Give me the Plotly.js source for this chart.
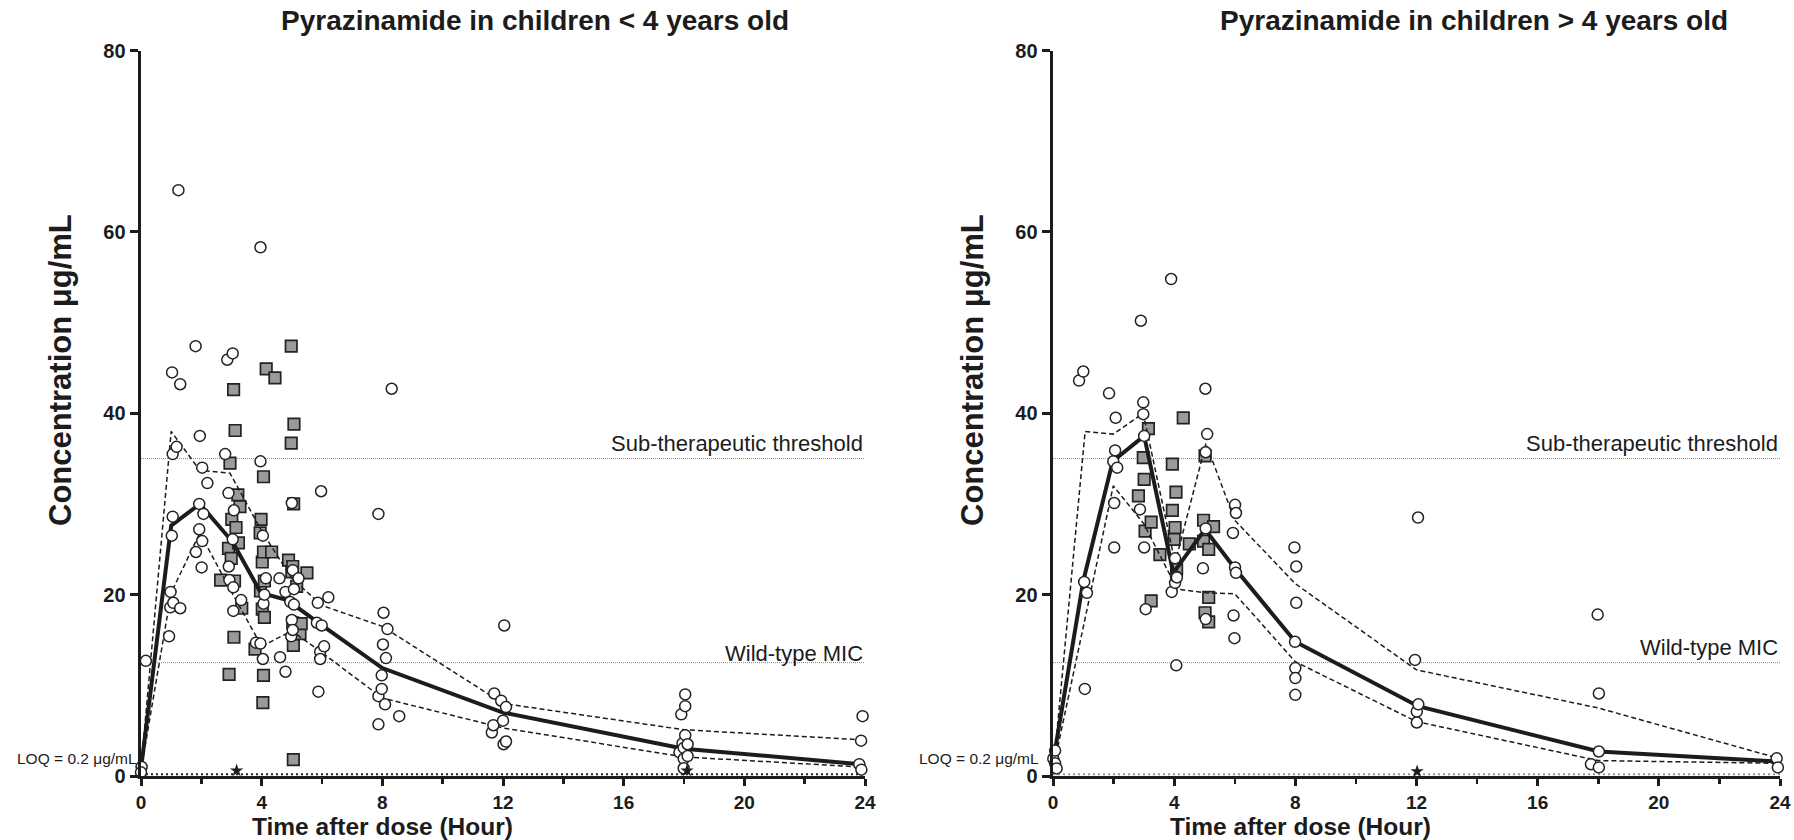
<!DOCTYPE html>
<html>
<head>
<meta charset="utf-8">
<script src="https://cdn.plot.ly/plotly-3.0.1.min.js"></script>
<style>html,body{margin:0;padding:0;background:#fff;}#chart{width:1794px;height:840px;}</style>
</head>
<body>
<div id="chart"></div>
<script>
// ---------- data ----------
const panelTitles = ["Pyrazinamide in children < 4 years old", "Pyrazinamide in children > 4 years old"];
const xTickVals = [0, 4, 8, 12, 16, 20, 24];
const xMinorVals = [2, 6, 10, 14, 18, 22];
const yTickVals = [0, 20, 40, 60, 80];
const subTherapeutic = 35;
const wildTypeMIC = 12.5;
const loq = 0.2;

// Left panel (< 4 years)
const leftCircleX = [0.02,0.0,0.16,0.93,0.97,0.98,1.02,1.05,1.07,1.03,1.05,1.18,1.24,1.3,1.3,
  1.81,1.82,1.93,1.93,1.95,2.01,2.03,2.03,2.07,2.2,
  2.79,2.86,2.9,2.91,2.93,3.04,3.04,3.06,3.06,3.08,3.32,
  3.81,3.96,3.96,3.96,4.04,4.04,4.06,4.09,4.14,
  4.59,4.61,4.79,4.79,4.95,4.98,5.0,5.0,5.03,5.03,5.07,5.07,5.22,
  5.83,5.86,5.88,5.94,5.94,5.97,5.99,6.07,6.21,
  7.87,7.87,7.87,7.98,7.98,8.02,8.04,8.09,8.12,8.17,8.31,8.56,
  11.63,11.68,11.71,11.94,12.0,12.02,12.04,12.1,12.1,
  17.85,17.91,17.95,17.99,17.99,17.99,18.04,18.04,18.04,18.12,18.12,
  23.81,23.87,23.88,23.92];
const leftCircleY = [1.0,0.4,12.7,15.4,18.6,20.3,26.5,28.6,19.1,44.5,35.5,36.3,64.6,43.2,18.5,
  47.4,24.7,27.2,30.0,37.5,23.0,25.9,34.0,28.9,32.3,
  35.5,45.9,31.2,23.1,21.6,46.6,26.1,20.8,18.2,29.3,19.4,
  14.7,58.3,34.7,14.6,26.5,12.9,19.0,20.0,21.8,
  21.8,13.1,20.3,11.5,19.2,15.4,30.1,17.2,22.7,16.1,20.6,18.9,21.8,
  16.9,19.1,9.3,13.7,12.9,31.4,16.6,14.3,19.7,
  28.9,8.8,5.7,11.1,9.6,14.5,18.0,7.9,13.0,16.2,42.7,6.6,
  4.8,5.6,9.1,8.3,6.1,3.5,16.6,7.6,3.8,
  2.6,6.8,3.6,3.1,1.9,0.85,9.0,7.7,4.5,3.5,2.2,
  1.3,3.9,0.7,6.6];
const leftSquareX = [2.64,2.9,2.92,2.95,2.99,3.01,3.07,3.08,3.1,3.12,3.15,3.21,3.23,3.28,3.34,
  3.78,3.95,3.96,3.98,4.02,4.02,4.04,4.06,4.06,4.06,4.09,4.09,4.15,4.33,4.44,
  4.89,4.98,4.98,5.0,5.03,5.03,5.05,5.05,5.06,5.07,5.16,5.27,5.31,5.5];
const leftSquareY = [21.6,25.1,11.2,34.5,24.0,28.3,42.6,15.3,21.5,38.1,27.4,31.0,25.7,29.7,18.5,
  14.0,26.8,20.4,28.3,23.6,18.4,8.1,33.0,24.7,11.1,21.5,17.5,44.9,24.7,43.9,
  23.8,47.4,36.7,22.5,23.1,16.9,14.4,1.8,30.0,38.8,20.9,15.7,16.8,22.4];
const leftMeanX = [0.0,1.0,1.95,3.04,3.97,4.85,6.0,8.0,12.0,18.0,23.85];
const leftMeanY = [0.8,27.6,30.0,25.8,20.2,19.4,16.6,11.9,7.0,3.0,1.3];
const leftUpperX = [0.0,1.0,1.95,2.95,4.0,5.0,6.0,8.0,12.0,18.0,23.85];
const leftUpperY = [0.8,38.0,33.7,33.4,27.0,21.8,18.8,16.5,8.0,5.1,4.0];
const leftLowerX = [0.0,1.0,1.95,3.0,4.0,5.0,6.0,8.0,12.0,18.0,23.85];
const leftLowerY = [0.6,20.2,26.8,20.3,14.3,16.0,13.6,8.6,5.3,2.1,1.0];
const leftStarX = [3.17,18.1];
const leftStarY = [0.6,0.6];

// Right panel (> 4 years)
const rightCircleX = [0.01,0.07,0.07,0.12,
  0.86,1.0,1.03,1.05,1.12,
  1.85,1.99,2.02,2.02,2.05,2.07,2.12,
  2.87,2.9,2.98,2.98,3.01,3.01,3.06,
  3.9,3.92,4.03,4.03,4.06,4.07,4.09,
  4.95,5.03,5.04,5.04,5.04,5.09,
  5.94,5.96,5.99,6.01,6.01,6.04,6.04,
  7.97,7.99,8.0,8.0,8.0,8.03,8.03,
  11.95,12.01,12.01,12.05,12.06,
  17.76,17.98,18.02,18.02,18.02,
  23.89,23.93];
const rightCircleY = [1.9,2.8,1.4,0.84,
  43.6,44.6,21.4,9.6,20.2,
  42.2,34.7,30.1,25.2,35.9,39.5,34.0,
  29.4,50.2,41.2,39.9,37.5,25.2,18.4,
  54.8,20.3,24.0,21.3,22.0,12.2,21.9,
  22.9,42.7,35.7,27.3,17.3,37.7,
  26.8,17.7,15.2,29.9,23.0,29.0,22.4,
  25.2,14.8,11.9,10.8,8.95,23.1,19.1,
  12.8,7.1,5.9,28.5,7.9,
  1.3,17.8,9.1,2.7,0.95,
  1.95,0.95];
const rightSquareX = [2.82,2.98,3.01,3.04,3.15,3.24,3.24,3.53,
  3.94,3.94,4.0,4.03,4.06,4.08,4.3,4.5,
  4.97,4.97,5.02,5.02,5.14,5.14,5.14,5.3];
const rightSquareY = [30.9,35.1,32.7,27.0,38.3,28.0,19.3,24.4,
  34.4,29.3,26.1,27.4,31.3,22.8,39.5,25.6,
  28.2,25.9,35.3,18.0,25.0,19.7,17.0,27.5];
const rightMeanX = [0.05,1.0,1.97,3.01,3.97,5.02,6.0,8.0,12.05,18.02,23.9];
const rightMeanY = [2.5,21.5,34.7,37.5,22.4,27.2,22.9,14.8,7.7,2.7,1.6];
const rightUpperX = [0.05,1.06,1.99,2.98,4.03,5.05,6.0,8.0,12.0,18.0,23.9];
const rightUpperY = [2.0,38.0,37.7,40.0,23.5,36.7,28.2,21.2,11.7,7.5,2.0];
const rightLowerX = [0.05,1.0,1.99,3.0,4.1,5.05,6.0,8.0,12.0,18.0,23.9];
const rightLowerY = [1.5,16.5,32.0,27.8,20.6,20.2,20.1,12.6,6.0,1.7,1.4];
const rightStarX = [12.02];
const rightStarY = [0.5];

// ---------- styling ----------
const FONT = '"Liberation Sans", Arial, Helvetica, sans-serif';
const INK = '#1c1c1c';

function panelTraces(xa, ya, d, loqColor) {
  const t = [];
  t.push({x:[0,24], y:[subTherapeutic,subTherapeutic], xaxis:xa, yaxis:ya, mode:'lines',
    line:{color:'#8a8a8a', width:1, dash:'1px,1px'}, hoverinfo:'skip'});
  t.push({x:[0,24], y:[wildTypeMIC,wildTypeMIC], xaxis:xa, yaxis:ya, mode:'lines',
    line:{color:'#8a8a8a', width:1, dash:'1px,1px'}, hoverinfo:'skip'});
  t.push({x:[0,24], y:[loq,loq], xaxis:xa, yaxis:ya, mode:'lines',
    line:{color:loqColor, width:2, dash:'2px,3px'}, hoverinfo:'skip', cliponaxis:false});
  t.push({x:d.sqX, y:d.sqY, xaxis:xa, yaxis:ya, mode:'markers', cliponaxis:false,
    marker:{symbol:'square', size:11.5, color:'#9a9a9a', line:{color:'#222', width:1.7}}});
  t.push({x:d.upX, y:d.upY, xaxis:xa, yaxis:ya, mode:'lines', cliponaxis:false,
    line:{color:INK, width:1.5, dash:'5px,3px'}});
  t.push({x:d.loX, y:d.loY, xaxis:xa, yaxis:ya, mode:'lines', cliponaxis:false,
    line:{color:INK, width:1.5, dash:'5px,3px'}});
  t.push({x:d.mX, y:d.mY, xaxis:xa, yaxis:ya, mode:'lines', cliponaxis:false,
    line:{color:INK, width:4}});
  t.push({x:d.cX, y:d.cY, xaxis:xa, yaxis:ya, mode:'markers', cliponaxis:false,
    marker:{symbol:'circle', size:11, color:'#ffffff', line:{color:'#222', width:1.5}}});
  t.push({x:d.sX, y:d.sY, xaxis:xa, yaxis:ya, mode:'markers', cliponaxis:false,
    marker:{symbol:'star', size:10, color:INK, line:{width:0}}});
  return t;
}

const data = [].concat(
  panelTraces('x','y',{sqX:leftSquareX,sqY:leftSquareY,upX:leftUpperX,upY:leftUpperY,loX:leftLowerX,loY:leftLowerY,
    mX:leftMeanX,mY:leftMeanY,cX:leftCircleX,cY:leftCircleY,sX:leftStarX,sY:leftStarY}, '#222'),
  panelTraces('x2','y2',{sqX:rightSquareX,sqY:rightSquareY,upX:rightUpperX,upY:rightUpperY,loX:rightLowerX,loY:rightLowerY,
    mX:rightMeanX,mY:rightMeanY,cX:rightCircleX,cY:rightCircleY,sX:rightStarX,sY:rightStarY}, '#9a9a9a')
);

function xAxis(domain, anchor) {
  return {domain:domain, anchor:anchor, range:[0,24], showgrid:false, zeroline:false,
    showline:true, linecolor:INK, linewidth:3.4,
    tickmode:'array', tickvals:xTickVals, ticktext:xTickVals.map(String),
    ticks:'outside', ticklen:7, tickwidth:3, tickcolor:INK,
    tickfont:{family:FONT, size:19, color:INK, weight:700},
    minor:{tickmode:'array', tickvals:xMinorVals, ticks:'outside', ticklen:5, tickwidth:2.5, tickcolor:INK},
    fixedrange:true};
}
function yAxis(domain, anchor) {
  return {domain:domain, anchor:anchor, range:[0,80], showgrid:false, zeroline:false,
    showline:true, linecolor:INK, linewidth:3.4,
    tickmode:'array', tickvals:yTickVals, ticktext:yTickVals.map(String),
    ticks:'outside', ticklen:8, tickwidth:3, tickcolor:INK,
    tickfont:{family:FONT, size:20, color:INK, weight:700}, fixedrange:true};
}

const W = 1794, H = 840;
const px = v => v / W, py = v => 1 - v / H;
const yDom = [py(776), py(50.5)];

const annotations = [];
function titleAnn(text, xc) {
  annotations.push({text:text, xref:'paper', yref:'paper', x:px(xc), y:py(20), xanchor:'center', yanchor:'middle',
    showarrow:false, font:{family:FONT, size:28, color:INK, weight:700}});
}
titleAnn(panelTitles[0], 535);
titleAnn(panelTitles[1], 1474);
function axTitles(xc, yx) {
  annotations.push({text:'Time after dose (Hour)', xref:'paper', yref:'paper', x:px(xc), y:py(826), xanchor:'center', yanchor:'middle',
    showarrow:false, borderpad:0, font:{family:FONT, size:24.5, color:INK, weight:700}});
  annotations.push({text:'Concentration \u03bcg/mL', xref:'paper', yref:'paper', x:px(yx), y:py(370), xanchor:'center', yanchor:'middle',
    textangle:-90, showarrow:false, font:{family:FONT, size:31, color:INK, weight:700}});
}
axTitles(382, 60);
axTitles(1300, 972);
function refTexts(xa, ya, micShift) {
  annotations.push({text:'Sub-therapeutic threshold', xref:xa, yref:ya, x:24, y:subTherapeutic, xanchor:'right', yanchor:'bottom',
    showarrow:false, yshift:1, font:{family:FONT, size:22, color:INK}});
  annotations.push({text:'Wild-type MIC', xref:xa, yref:ya, x:24, y:wildTypeMIC, xanchor:'right', yanchor:'bottom',
    showarrow:false, yshift:micShift, font:{family:FONT, size:22, color:INK}});
}
refTexts('x','y',-5);
refTexts('x2','y2',1);
annotations.push({text:'LOQ = 0.2 \u03bcg/mL', xref:'paper', yref:'paper', x:px(138), y:py(758), xanchor:'right', yanchor:'middle',
  showarrow:false, borderpad:0, font:{family:FONT, size:15.5, color:INK}});
annotations.push({text:'LOQ = 0.2 \u03bcg/mL', xref:'paper', yref:'paper', x:px(1040), y:py(758), xanchor:'right', yanchor:'middle',
  showarrow:false, borderpad:0, font:{family:FONT, size:15.5, color:INK}});

const layout = {
  width:W, height:H, margin:{l:0, r:0, t:0, b:0},
  paper_bgcolor:'#ffffff', plot_bgcolor:'#ffffff', showlegend:false,
  xaxis: xAxis([px(141), px(865)], 'y'),
  yaxis: yAxis(yDom, 'x'),
  xaxis2: xAxis([px(1053), px(1780)], 'y2'),
  yaxis2: yAxis(yDom, 'x2'),
  annotations: annotations
};

Plotly.newPlot('chart', data, layout, {staticPlot:true, displayModeBar:false});
</script>
</body>
</html>
